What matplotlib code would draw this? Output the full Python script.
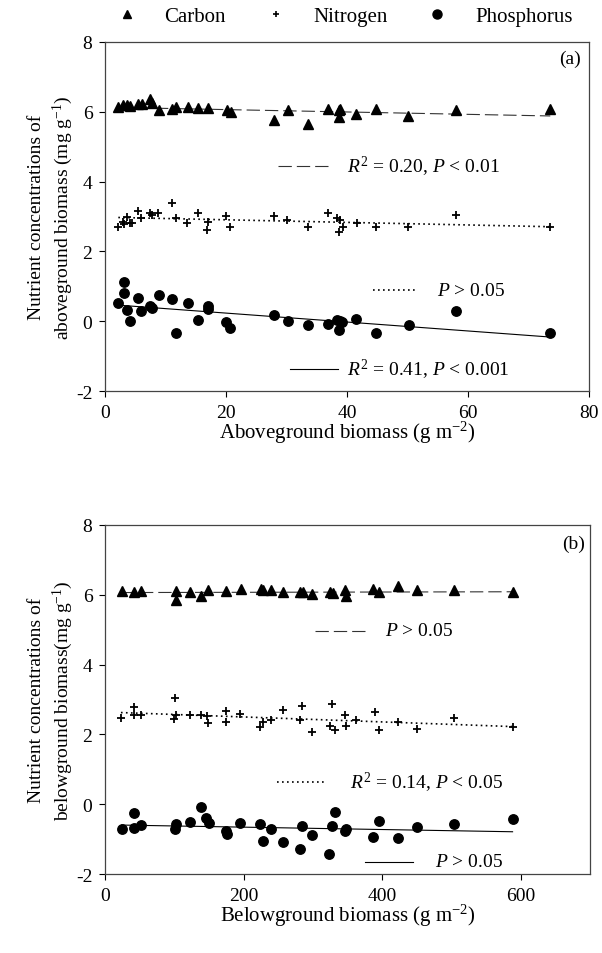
import numpy as np
import matplotlib.pyplot as plt
from matplotlib.lines import Line2D

plt.rcParams['font.family'] = 'Liberation Serif'
plt.rcParams['mathtext.fontset'] = 'custom'
plt.rcParams['mathtext.rm'] = 'Liberation Serif'
plt.rcParams['mathtext.it'] = 'Liberation Serif:italic'
plt.rcParams['axes.unicode_minus'] = False

# ---- panel (a): aboveground biomass ----
above_x_C = [2.2, 3.0, 3.6, 4.1, 5.5, 6.1, 7.4, 7.7, 9.0, 11.0, 11.8, 13.8, 15.3, 17.1, 20.1, 20.8,
             27.9, 30.3, 33.6, 36.9, 38.6, 38.9, 38.6, 41.5, 44.8, 50.1, 58.0, 73.6]
above_C = [6.14, 6.18, 6.18, 6.16, 6.21, 6.21, 6.37, 6.24, 6.04, 6.08, 6.13, 6.14, 6.12, 6.11, 6.04, 5.99,
           5.75, 6.06, 5.65, 6.09, 6.06, 6.08, 5.85, 5.94, 6.08, 5.89, 6.06, 6.09]

above_x_N = [2.2, 2.9, 3.1, 3.6, 4.1, 4.4, 5.4, 5.9, 7.4, 7.7, 8.8, 11.0, 11.7, 13.6, 15.3, 17.1,
             16.9, 20.0, 20.7, 27.9, 30.1, 33.6, 36.9, 38.4, 38.9, 39.3, 38.6, 41.6, 44.8, 50.1, 58.0, 73.6]
above_N = [2.69, 2.85, 2.79, 3.0, 2.81, 2.81, 3.16, 2.95, 3.09, 3.05, 3.09, 3.38, 2.95, 2.81, 3.09, 2.83,
           2.62, 3.02, 2.71, 3.02, 2.90, 2.71, 3.09, 2.95, 2.90, 2.71, 2.55, 2.81, 2.71, 2.71, 3.05, 2.71]

above_x_P = [2.2, 3.1, 3.1, 3.6, 4.2, 5.4, 5.9, 7.4, 7.7, 8.9, 11.0, 11.7, 13.7, 15.3, 17.1, 17.1,
             20.0, 20.7, 27.9, 30.3, 33.6, 36.9, 38.3, 38.8, 38.6, 41.5, 39.1, 44.8, 50.3, 58.0, 73.6]
above_P = [0.53, 1.13, 0.81, 0.32, 0.01, 0.67, 0.29, 0.43, 0.39, 0.75, 0.63, -0.35, 0.51, 0.05, 0.43, 0.34,
           -0.02, -0.18, 0.19, 0.01, -0.11, -0.09, 0.05, 0.01, -0.26, 0.07, -0.02, -0.35, -0.11, 0.29, -0.35]

# fitted lines (intercept, slope) for C, N, P
above_fit_int = [6.13, 2.98, 0.49]
above_fit_slope = [-0.0034, -0.0037, -0.0128]

# ---- panel (b): belowground biomass ----
below_x_C = [24, 42, 52, 102, 102, 122, 139, 149, 175, 196, 225, 228, 240, 257, 281, 286, 299, 324,
             329, 346, 348, 387, 396, 422, 450, 503, 588]
below_C = [6.10, 6.07, 6.10, 6.10, 5.85, 6.07, 5.96, 6.12, 6.10, 6.17, 6.15, 6.12, 6.12, 6.07, 6.09, 6.09,
           6.02, 6.07, 6.05, 6.12, 5.96, 6.15, 6.09, 6.26, 6.12, 6.12, 6.09]

below_x_N = [23, 42, 42, 51.5, 101, 100, 102, 122, 138, 147, 149, 175, 174, 195, 223, 228, 240, 257,
             281, 284, 299, 325, 328, 332, 346, 348, 362, 390, 396, 422, 450, 503, 588]
below_N = [2.46, 2.79, 2.56, 2.56, 3.03, 2.44, 2.56, 2.54, 2.54, 2.52, 2.32, 2.68, 2.36, 2.58, 2.20, 2.35,
           2.41, 2.70, 2.41, 2.82, 2.08, 2.25, 2.87, 2.13, 2.56, 2.25, 2.41, 2.65, 2.13, 2.36, 2.15, 2.46, 2.20]

below_x_P = [24, 42, 42, 52, 101, 103, 122, 138, 146, 150, 175, 176, 195, 223, 228, 240, 257, 281,
             284, 299, 323, 328, 332, 346, 348, 387, 396, 422, 450, 503, 588]
below_P = [-0.71, -0.26, -0.69, -0.60, -0.71, -0.57, -0.50, -0.09, -0.40, -0.55, -0.76, -0.85, -0.55, -0.57,
           -1.05, -0.71, -1.09, -1.28, -0.62, -0.87, -1.43, -0.62, -0.23, -0.76, -0.71, -0.93, -0.47,
           -0.98, -0.66, -0.57, -0.42]

below_fit_int = [6.06, 2.64, -0.59]
below_fit_slope = [0.00004, -0.00071, -0.00034]

series_names = ["Carbon", "Nitrogen", "Phosphorus"]

markers = [dict(marker='^', ms=6.8), dict(marker='+', ms=5.5, mew=1.3), dict(marker='o', ms=6.8)]
line_styles = [dict(dashes=(12, 4.5), lw=0.8, color='#333333'),
               dict(dashes=(1, 2), lw=1.2, color='black'),
               dict(ls='-', lw=0.8, color='black')]

fig = plt.figure(figsize=(6.02, 9.54), dpi=100)
ax1 = fig.add_axes([0.1744, 0.589, 0.804, 0.366])
ax2 = fig.add_axes([0.1744, 0.0828, 0.806, 0.366])


def draw_panel(ax, xs, ys, ints, slopes):
    for i in range(3):
        x = np.array(xs[i], dtype=float)
        xx = np.array([x.min(), x.max()])
        ax.plot(xx, ints[i] + slopes[i] * xx, **line_styles[i])
        ax.plot(x, ys[i], ls='none', color='black', **markers[i])


def key(ax, x0, x1, y, style, tx, label):
    ax.plot([x0, x1], [y, y], transform=ax.transAxes, **line_styles[style])
    ax.text(tx, y, label, transform=ax.transAxes, fontsize=14, va='center', ha='left')


draw_panel(ax1, [above_x_C, above_x_N, above_x_P], [above_C, above_N, above_P],
           above_fit_int, above_fit_slope)
draw_panel(ax2, [below_x_C, below_x_N, below_x_P], [below_C, below_N, below_P],
           below_fit_int, below_fit_slope)

ax1.set_xlim(0, 80)
ax1.set_xticks([0, 20, 40, 60, 80])
ax2.set_xlim(0, 700)
ax2.set_xticks([0, 200, 400, 600])

for ax in (ax1, ax2):
    ax.set_ylim(-2, 8)
    ax.set_yticks([-2, 0, 2, 4, 6, 8])
    ax.tick_params(direction='out', length=4, width=0.8, labelsize=14, pad=5,
                   top=False, right=False)
    for s in ax.spines.values():
        s.set_color('#444444')
        s.set_linewidth(0.9)

key(ax1, 0.357, 0.465, 0.645, 0, 0.50, r"$R^2$ = 0.20, $P$ < 0.01")
key(ax1, 0.554, 0.647, 0.289, 1, 0.685, r"$P$ > 0.05")
key(ax1, 0.382, 0.481, 0.063, 2, 0.50, r"$R^2$ = 0.41, $P$ < 0.001")
ax1.text(0.961, 0.954, "(a)", transform=ax1.transAxes, fontsize=14, ha='center', va='center')

key(ax2, 0.433, 0.542, 0.697, 0, 0.577, r"$P$ > 0.05")
key(ax2, 0.354, 0.454, 0.264, 1, 0.505, r"$R^2$ = 0.14, $P$ < 0.05")
key(ax2, 0.536, 0.634, 0.035, 2, 0.680, r"$P$ > 0.05")
ax2.text(0.966, 0.946, "(b)", transform=ax2.transAxes, fontsize=14, ha='center', va='center')

ax1.set_xlabel(r"Aboveground biomass (g m$^{-2}$)", fontsize=15, labelpad=-1)
ax2.set_xlabel(r"Belowground biomass (g m$^{-2}$)", fontsize=15, labelpad=-1)
ax1.set_ylabel("Nutrient concentrations of\naboveground biomass (mg g$^{-1}$)", fontsize=14,
               linespacing=1.3, labelpad=1)
ax2.set_ylabel("Nutrient concentrations of\nbelowground biomass(mg g$^{-1}$)", fontsize=14,
               linespacing=1.3, labelpad=1)

handles = [Line2D([], [], ls='none', color='black', marker='^', ms=6),
           Line2D([], [], ls='none', color='black', marker='+', ms=5, mew=1.2),
           Line2D([], [], ls='none', color='black', marker='o', ms=6.5)]
fig.legend(handles, series_names, loc='center', bbox_to_anchor=(0.572, 0.982), ncol=3,
           frameon=False, fontsize=15, handlelength=1.0, handletextpad=1.3, columnspacing=1.9)

fig.savefig("out.png", dpi=100)
